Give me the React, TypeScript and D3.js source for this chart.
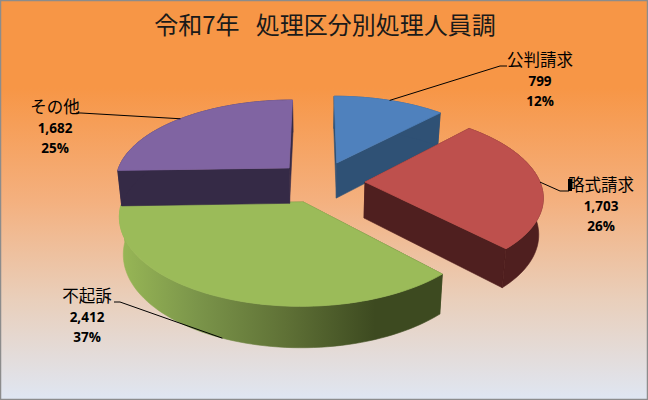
import React from 'react';
import * as d3 from 'd3';

const categories = ['公判請求', '略式請求', '不起訴', 'その他'];
const values = [799, 1703, 2412, 1682];
const percents = ['12%', '26%', '37%', '25%'];
const title = '令和7年\u00a0\u00a0\u00a0処理区分別処理人員調';

const topColors = ['#4f81bd', '#be504d', '#9bbb59', '#8064a2'];
const wallColors = ['#2f5175', '#4f1f1f', 'url(#greenWall)', '#352a46'];

// how far each slice is pulled out of the pie (in pie radii)
const explodeX = [0.123, 0.28, -0.07, -0.158];
const explodeY = [0.241, 0, -0.235, 0.176];
// slices are painted back to front
const paintOrder = [0, 2, 3, 1];

const labelX = [540, 601, 87, 55];
const labelY = [60, 185, 296, 107];
const elbowX = [500, 560, 120, 81];
const elbowY = [66, 191, 302, 113];
const tailX = [507, 569, 114, 76];

const width = 648;
const height = 400;
const perspective = 0.15;
const depth = 36;

const x = d3.scaleLinear().domain([-1, 1]).range([141, 491]);
const y = d3.scaleLinear().domain([-1, 1]).range([264, 100]);

// project a point on the pie plane; z = 0 is the top face, z = 1 the bottom
function project(px: number, py: number, z: number): [number, number] {
  const s = 1 / (1 + perspective * py);
  const shrink = 1 - 0.02 * z;
  const drop = z * (depth + (s - 1) * 24);
  return [
    x(0) + (x(px * s) - x(0)) * shrink,
    y(py * s) + drop,
  ];
}

const slices = d3.pie<number>().sort(null)(values);
const line = d3.line();

function rim(i: number, a0: number, a1: number, z: number): [number, number][] {
  const steps = Math.max(2, Math.ceil(Math.abs(a1 - a0) * 30));
  return d3.range(steps + 1).map(k => {
    const a = a0 + ((a1 - a0) * k) / steps;
    return project(explodeX[i] + Math.sin(a), explodeY[i] + Math.cos(a), z);
  });
}

function Slice({ i }: { i: number }) {
  const { startAngle, endAngle } = slices[i];
  const apexTop = project(explodeX[i], explodeY[i], 0);
  const apexBottom = project(explodeX[i], explodeY[i], 1);
  const startTop = rim(i, startAngle, startAngle, 0)[0];
  const startBottom = rim(i, startAngle, startAngle, 1)[0];
  const endTop = rim(i, endAngle, endAngle, 0)[0];
  const endBottom = rim(i, endAngle, endAngle, 1)[0];
  const wall = [...rim(i, startAngle, endAngle, 0), ...rim(i, endAngle, startAngle, 1)];
  const top = [apexTop, ...rim(i, startAngle, endAngle, 0)];
  return (
    <g>
      <g stroke={wallColors[i]} strokeWidth={0.6}>
        <path d={line([apexTop, startTop, startBottom, apexBottom])! + 'Z'} fill={wallColors[i]} />
        <path d={line([apexTop, endTop, endBottom, apexBottom])! + 'Z'} fill={wallColors[i]} />
        <path d={line(wall)! + 'Z'} fill={wallColors[i]} />
      </g>
      <path d={line(top)! + 'Z'} fill={topColors[i]} stroke={topColors[i]} strokeWidth={0.8} />
    </g>
  );
}

function Label({ i }: { i: number }) {
  const mid = (slices[i].startAngle + slices[i].endAngle) / 2;
  // the 不起訴 leader goes to the lower edge of the wall
  const anchor = rim(i, mid, mid, i === 2 ? 1 : 0)[0];
  const leader = line([anchor, [elbowX[i], elbowY[i]], [tailX[i], elbowY[i]]])!;
  return (
    <g>
      <path d={leader} fill="none" stroke="#000" strokeWidth={1} />
      <g textAnchor="middle" fill="#000">
        <text x={labelX[i]} y={labelY[i] + 6} fontSize={16.5} fontFamily="'Noto Sans CJK JP'">
          {categories[i]}
        </text>
        <g fontSize={13.5} fontWeight="bold" fontFamily="'Open Sans'">
          <text x={labelX[i]} y={labelY[i] + 26}>{d3.format(',')(values[i])}</text>
          <text x={labelX[i]} y={labelY[i] + 46}>{percents[i]}</text>
        </g>
      </g>
    </g>
  );
}

export default function App() {
  return (
    <svg
      width={width}
      height={height}
      viewBox={`0 0 ${width} ${height}`}
      style={{ position: 'absolute', left: 0, top: 0 }}
    >
      <defs>
        <linearGradient id="bg" x1="0" y1="0" x2="0" y2="1">
          <stop offset="0" stopColor="#f79646" />
          <stop offset="0.22" stopColor="#f79646" />
          <stop offset="0.5" stopColor="#f4b07e" />
          <stop offset="0.75" stopColor="#e9cfbb" />
          <stop offset="1" stopColor="#dfe6f2" />
        </linearGradient>
        <linearGradient id="greenWall" gradientUnits="userSpaceOnUse" x1="120" y1="0" x2="375" y2="0">
          <stop offset="0" stopColor="#98b756" />
          <stop offset="0.3" stopColor="#7b954a" />
          <stop offset="0.65" stopColor="#5f7136" />
          <stop offset="1" stopColor="#3d4a20" />
        </linearGradient>
      </defs>
      <rect x={0.5} y={0.5} width={width - 1} height={height - 1} fill="url(#bg)" stroke="#8c8c8c" strokeWidth={1.5} />
      <text
        x={325}
        y={34}
        textAnchor="middle"
        fontSize={24}
        fontFamily="'Noto Sans CJK JP'"
        fill="#1a1a1a"
      >
        {title}
      </text>
      {paintOrder.map(i => (
        <Slice key={i} i={i} />
      ))}
      {categories.map((_, i) => (
        <Label key={i} i={i} />
      ))}
      <rect x={568} y={179} width={4} height={12} fill="#000" />
    </svg>
  );
}
